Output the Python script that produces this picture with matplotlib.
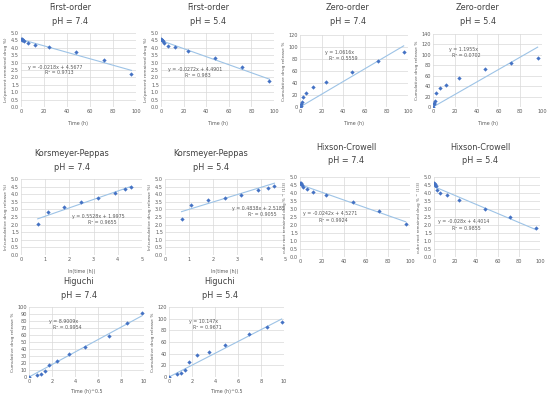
import matplotlib
matplotlib.use("Agg")
import matplotlib.pyplot as plt
import numpy as np

plt.rcParams['font.family'] = ['Liberation Sans Narrow', 'DejaVu Sans']

# ---------------- data ----------------
time_h = [0, 0.5, 1, 2, 3, 6, 12, 24, 48, 72, 96]
sqrt_time = [0, 0.71, 1.0, 1.41, 1.73, 2.45, 3.46, 4.90, 6.93, 8.49, 9.80]
ln_time = [0.69, 1.10, 1.79, 2.48, 3.18, 3.87, 4.28, 4.56]

cum_74 = [0, 2.5, 4.5, 9, 16.5, 23.5, 33, 42.5, 58.5, 76.5, 91]
cum_54 = [0, 5, 7.5, 11.5, 26, 37, 43, 55, 73.5, 85, 94]

ln_rem_74 = [4.61, 4.58, 4.56, 4.51, 4.43, 4.34, 4.21, 4.05, 3.73, 3.16, 2.20]
ln_rem_54 = [4.61, 4.55, 4.53, 4.48, 4.30, 4.14, 4.04, 3.81, 3.28, 2.71, 1.79]

ln_cum_74 = [2.07, 2.80, 3.13, 3.46, 3.72, 4.05, 4.34, 4.49]
ln_cum_54 = [2.40, 3.26, 3.59, 3.74, 3.98, 4.29, 4.43, 4.53]

cbrt_rem_74 = [4.64, 4.60, 4.57, 4.50, 4.37, 4.25, 4.06, 3.86, 3.46, 2.87, 2.08]
cbrt_rem_54 = [4.64, 4.56, 4.52, 4.46, 4.20, 3.98, 3.85, 3.56, 2.98, 2.47, 1.80]

# trendline coefficients (slope, intercept) as printed on the chart
fit_fo_74 = (-0.0218, 4.5677); eq_fo_74 = ("y = -0.0218x + 4.5677", "R² = 0.9713")
fit_fo_54 = (-0.0272, 4.4901); eq_fo_54 = ("y = -0.0272x + 4.4901", "R² = 0.983")
fit_zo_74 = (1.0616, 0.0); eq_zo_74 = ("y = 1.0616x", "R² = 0.5559")
fit_zo_54 = (1.1955, 0.0); eq_zo_54 = ("y = 1.1955x", "R² = 0.0702")
fit_kp_74 = (0.5528, 1.9975); eq_kp_74 = ("y = 0.5528x + 1.9975", "R² = 0.9655")
fit_kp_54 = (0.4838, 2.5185); eq_kp_54 = ("y = 0.4838x + 2.5185", "R² = 0.9055")
fit_hc_74 = (-0.0242, 4.5271); eq_hc_74 = ("y = -0.0242x + 4.5271", "R² = 0.9924")
fit_hc_54 = (-0.0280, 4.4014); eq_hc_54 = ("y = -0.028x + 4.4014", "R² = 0.9855")
fit_hg_74 = (8.9009, 0.0); eq_hg_74 = ("y = 8.9009x", "R² = 0.9954")
fit_hg_54 = (10.147, 0.0); eq_hg_54 = ("y = 10.147x", "R² = 0.9671")

# ---------------- style ----------------
W, H = 550, 399
fig = plt.figure(figsize=(W / 100, H / 100), dpi=100)
fig.patch.set_facecolor('white')

MARK = '#4472C4'
LINE = '#9DC3E6'
GRID = '#D9D9D9'
TXT = '#595959'
TITLE = '#404040'


def px_axes(l, t, r, b):
    return fig.add_axes([l / W, 1 - b / H, (r - l) / W, (b - t) / H])


def panel(rect, x, y, fit, eq, eqpos, xlim, xticks, ylim, yticks, ylabel,
          title, title_xy, xlabel=None, xlabel_y=None, eqsize=3.4, ylsize=3.2):
    ax = px_axes(*rect)
    ax.set_xlim(*xlim)
    ax.set_ylim(*ylim)
    ax.set_xticks(xticks)
    ax.set_yticks(yticks)
    ax.grid(True, color=GRID, lw=0.5)
    ax.set_axisbelow(True)
    for s in ax.spines.values():
        s.set_visible(False)
    ax.tick_params(length=0, labelsize=3.6, colors=TXT, pad=1.5)
    xs = np.array([min(x), max(x)])
    ax.plot(xs, fit[0] * xs + fit[1], color=LINE, lw=0.8, zorder=2)
    ax.plot(x, y, 'D', color=MARK, ms=2.2, mew=0, zorder=3)
    ax.text(eqpos[0], eqpos[1], eq[0], transform=ax.transAxes, ha='center',
            va='center', fontsize=eqsize, color=TXT)
    ax.text(eqpos[0] + 0.03, eqpos[1] - 0.08, eq[1], transform=ax.transAxes,
            ha='center', va='center', fontsize=eqsize, color=TXT)
    ax.set_ylabel(ylabel, fontsize=ylsize, color=TXT, labelpad=2)
    tx, ty = title_xy
    fig.text(tx / W, 1 - ty / H, title[0], ha='center', va='center',
             fontsize=6.5, color=TITLE, fontstretch='condensed')
    fig.text(tx / W, 1 - (ty + 13) / H, title[1], ha='center', va='center',
             fontsize=6.5, color=TITLE, fontstretch='condensed')
    if xlabel:
        fig.text(((rect[0] + rect[2]) / 2) / W, 1 - xlabel_y / H, xlabel,
                 ha='center', va='center', fontsize=3.4, color=TXT)
    return ax


t100 = np.arange(0, 101, 20)
y5 = np.arange(0, 5.01, 0.5)

# Row 1
panel((21, 33, 136, 107), time_h, ln_rem_74, fit_fo_74, eq_fo_74, (0.30, 0.54),
      (0, 100), t100, (0, 5), y5, "Ln(percent remained drug %)",
      ("First-order", "pH = 7.4"), (70, 8), "Time (h)", 123)
panel((161, 33, 274, 107), time_h, ln_rem_54, fit_fo_54, eq_fo_54, (0.30, 0.51),
      (0, 100), t100, (0, 5), y5, "Ln(percent remained drug %)",
      ("First-order", "pH = 5.4"), (208, 8), "Time (h)", 123)
panel((300, 35, 408, 107), time_h, cum_74, fit_zo_74, eq_zo_74, (0.37, 0.76),
      (0, 100), t100, (0, 120), np.arange(0, 121, 20), "Cumulative drug release %",
      ("Zero-order", "pH = 7.4"), (348, 8), "Time (h)", 123)
panel((433, 34, 542, 107), time_h, cum_54, fit_zo_54, eq_zo_54, (0.28, 0.79),
      (0, 100), t100, (0, 140), np.arange(0, 141, 20), "Cumulative drug release %",
      ("Zero-order", "pH = 5.4"), (478, 8), "Time (h)", 123)

# Row 2
panel((21, 179, 142, 255), ln_time, ln_cum_74, fit_kp_74, eq_kp_74, (0.64, 0.51),
      (0, 5), np.arange(0, 6, 1), (0, 5), y5, "ln(cumulative drug release %)",
      ("Korsmeyer-Peppas", "pH = 7.4"), (72, 154), "ln(time (h))", 271)
panel((165, 179, 285, 255), ln_time, ln_cum_54, fit_kp_54, eq_kp_54, (0.78, 0.61),
      (0, 5), np.arange(0, 6, 1), (0, 5), y5, "ln(cumulative drug release %)",
      ("Korsmeyer-Peppas", "pH = 5.4"), (211, 154), "ln(time (h))", 271)
panel((300, 177, 410, 257), time_h, cbrt_rem_74, fit_hc_74, eq_hc_74, (0.27, 0.54),
      (0, 100), t100, (0, 5), y5, "cube root remained drug % ^ (1/3)",
      ("Hixson-Crowell", "pH = 7.4"), (346, 148), ylsize=2.9)
panel((434, 177, 540, 257), time_h, cbrt_rem_54, fit_hc_54, eq_hc_54, (0.28, 0.44),
      (0, 100), t100, (0, 5), y5, "cube root remained drug % ^ (1/3)",
      ("Hixson-Crowell", "pH = 5.4"), (480, 148), ylsize=2.9)

# Row 3
panel((29, 307, 144, 377), sqrt_time, cum_74, fit_hg_74, eq_hg_74, (0.30, 0.79),
      (0, 10), np.arange(0, 11, 2), (0, 100), np.arange(0, 101, 10),
      "Cumulative drug release %", ("Higuchi", "pH = 7.4"), (79, 282),
      "Time (h)^0.5", 392)
panel((169, 307, 284, 377), sqrt_time, cum_54, fit_hg_54, eq_hg_54, (0.30, 0.79),
      (0, 10), np.arange(0, 11, 2), (0, 120), np.arange(0, 121, 20),
      "Cumulative drug release %", ("Higuchi", "pH = 5.4"), (220, 282),
      "Time (h)^0.5", 392)

fig.savefig("out.png", dpi=100, facecolor='white')
